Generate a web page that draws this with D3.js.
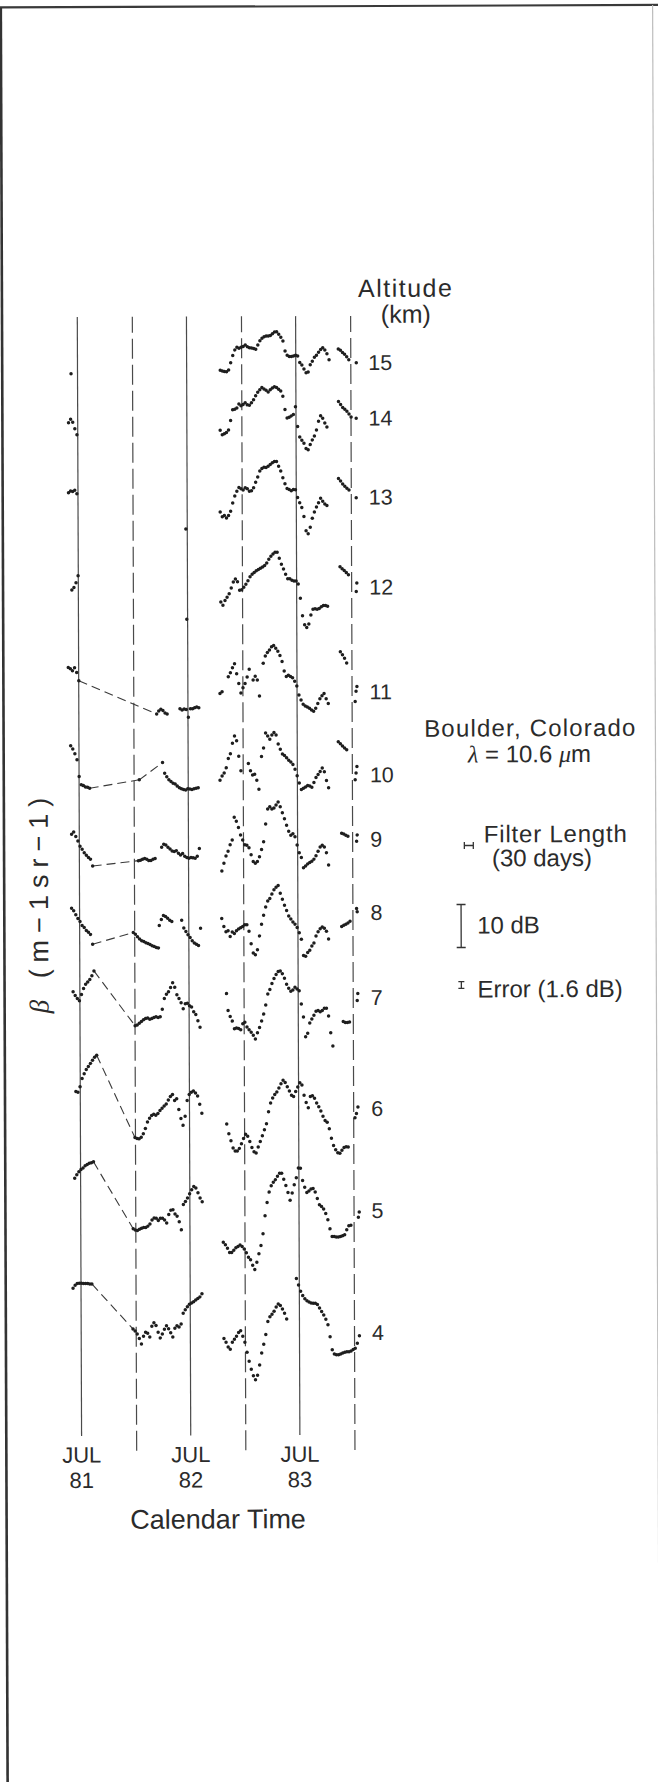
<!DOCTYPE html>
<html>
<head>
<meta charset="utf-8">
<script src="https://cdn.jsdelivr.net/npm/d3@7"></script>
<style>
  body { margin: 0; background: #fff; }
  svg { display: block; }
  text { font-family: "Liberation Sans", Arial, sans-serif; fill: #2b2b2b; }
</style>
</head>
<body>
<svg id="chart" width="658" height="1782"></svg>
<script>
// altitude of each trace (km), top to bottom, and the dB shift used to stack it
const altitudes = [15, 14, 13, 12, 11, 10, 9, 8, 7, 6, 5, 4]
const traceOffsetDb = [250.6, 237.7, 219.3, 198.4, 174.0, 154.7, 139.7, 122.7, 102.9, 77.1, 53.4, 25.0]

// filtered backscatter, dB relative to the trace offset; each segment starts at a date, step in days
// link: dashed line drawn from the previous segment across the data gap
const alt15 = [
  {start: "1981-06-11", step: 7, v: [-2.4]},
  {start: "1982-10-23", step: 7, v: [-1.7,-1.9,-2.0,-2.1,-1.7,0,1.7,3.0,3.6,3.4,3.6,3.8,4.1,3.7,3.5,3.4,3.3,3.1,4.1,5.1,5.7,6.0,6.2,6.2,6.3,6.7,7.1,7.2,6.6,5.9,5.0,2.7,1.7,1.4,1.4,1.5,1.7,1.5,0,-0.6,-1.5,-2.4,-2.2,-0.5,0.3,1.2,1.7,2.4,3.0,3.4,2.9,2.0,0.6]},
  {start: "1983-11-22", step: 7, v: [3.1,2.8,2.3,1.9,1.3,0.6]},
  {start: "1984-01-21", step: 2, v: [-0.1]}
]
const alt14 = [
  {start: "1981-06-02", step: 7, v: [-0.9,-0.1,-0.8,-2.3,-3.7]},
  {start: "1982-10-22", step: 7, v: [-2.8,-3.8,-3.6,-3.3,-2.7,-0.5,2.0,2.1,2.4,3.3,2.9,3.2,3.6,3.1,3.0,3.6,4.3,5.2,6.0,6.6,7.1,6.8,6.5,6.1,6.6,7.0,7.3,7.1,6.7,6.3,5.1,2.0,0,0.2,0.5,0.8,2.6,-2.0,-4.4,-5.2,-5.9,-7.1,-7.4,-6.2,-5.1,-4.2,-2.8,-0.8,0.5,-0.1,-1.2,-2.1]},
  {start: "1983-11-22", step: 7, v: [3.8,3.1,2.4,2.0,1.5,0.9,0.2]},
  {start: "1984-01-20", step: 2, v: [-0.1]}
]
const alt13 = [
  {start: "1981-06-01", step: 7, v: [1.2,1.6,1.5,1.8,1.0]},
  {start: "1982-06-28", step: 7, v: [-7.3]},
  {start: "1982-10-21", step: 7, v: [-3.4,-4.5,-4.2,-4.8,-4.2,-3.2,-1.3,0.3,1.4,2.3,2.0,1.7,2.2,2.0,1.4,1.5,2.2,3.5,4.7,6.1,6.7,7.0,6.9,7.2,7.6,8.0,8.3,8.3,7.2,6.1,4.5,3.1,2.0,1.8,1.5,1.8,1.7,-0.1,-1.3,-2.4,-4.5,-7.8,-8.5,-7.0,-4.9,-3.5,-2.3,-1.3,-0.3,-1.0,-1.6,-2.0]},
  {start: "1983-11-21", step: 7, v: [4.3,3.7,3.0,2.5,2.0,1.6]},
  {start: "1984-01-19", step: 2, v: [-0.2]}
]
const alt12 = [
  {start: "1981-06-11", step: 7, v: [-0.5,0.1,1.2,2.8]},
  {start: "1982-06-30", step: 7, v: [-7.4]},
  {start: "1982-10-22", step: 7, v: [-3.4,-4.2,-3.1,-2.3,-1.5,-0.2,1.2,1.9,1.3,-0.7,-0.6,0,0.7,1.5,2.4,3.0,3.4,3.8,4.1,4.4,4.7,5.0,5.6,6.5,7.2,7.7,8.1,8.1,6.7,5.3,4.2,3.0,1.9,1.9,1.6,1.4,1.4,0.7,-2.6,-6.7,-8.8,-9.4,-8.6,-6.5,-5.2,-5.1,-5.2,-5.0,-4.6,-4.3,-4.3,-4.5]},
  {start: "1983-11-25", step: 7, v: [4.7,4.2,3.8,3.3,2.8]},
  {start: "1984-01-18", step: 2, v: [-1.1,0.9]}
]
const alt11 = [
  {start: "1981-05-29", step: 7, v: [5.9,5.6,5.1,5.8,4.7,2.8]},
  {start: "1982-03-20", step: 7, link: true, v: [-5.0,-4.3,-3.9,-4.2,-4.8,-5.0]},
  {start: "1982-06-06", step: 7, v: [-3.8,-4.1,-3.9,-4.0,-5.8,-3.8,-3.8,-3.6,-3.4,-3.6]},
  {start: "1982-10-18", step: 7, v: [-0.3,0.1]},
  {start: "1982-11-15", step: 7, v: [3.6,4.5,5.7,6.6,4.3,2.0,-0.2,1.0,2.0,3.5,5.3]},
  {start: "1983-02-06", step: 7, v: [2.8,3.7,2.8,-0.9]},
  {start: "1983-03-12", step: 7, v: [6.7,8.4,9.2,9.8,10.5,10.8,10.2,9.5,8.5,7.1,4.9,3.6,3.9,3.6,3.3,2.5,1.4,-0.7,-1.9,-2.9,-3.3,-3.5,-3.8,-4.2,-4.5,-3.8,-2.7,-1.6,-0.9,-0.4,-1.6,-2.7]},
  {start: "1983-11-25", step: 7, v: [9.3,8.6,7.8,6.7]},
  {start: "1984-01-13", step: 3, v: [-2.3,0.1,1.2]}
]
const alt10 = [
  {start: "1981-06-05", step: 7, v: [7.0,6.2,5.1,3.7,-0.2,-2.1,-2.3,-2.6,-2.7,-2.9]},
  {start: "1982-01-20", step: 7, link: true, v: [-1.0]},
  {start: "1982-04-08", step: 7, link: true, v: [3.0,0.5,-0.3,-1.0,-1.4,-1.8,-2.0,-2.5,-2.9,-3.1,-3.3,-3.4,-3.1,-3.2,-3.3,-3.1,-3.0,-2.9]},
  {start: "1982-10-17", step: 7, v: [-1.2,-0.2,0.5,1.7,3.9,5.0,7.4,9.1,8.0,4.4,1.0]},
  {start: "1983-01-20", step: 7, v: [2.7,1.0,0,0.2,-1.2,-3.3]},
  {start: "1983-03-05", step: 7, v: [4.3,6.3,9.8,9.1,8.3,9.3,9.9,9.3,7.2,6.0,4.9,4.5,4.0,3.4,3.0,2.4,1.3,-0.2,-1.9,-3.4,-3.1,-2.8,-2.5,-2.6,-2.9,-1.8,-0.6,0.1,0.8,1.6,0.7,-1.3,-3.0]},
  {start: "1983-11-17", step: 7, v: [7.7,7.2,6.7,6.2,5.8]},
  {start: "1984-01-12", step: 3, v: [-1.2,0.4,1.9]}
]
const alt9 = [
  {start: "1981-06-07", step: 7, v: [1.4,1.9,0.9,-0.2,-1.4,-2.1,-2.9,-3.5,-4.0,-4.4,-6.0]},
  {start: "1982-01-16", step: 7, link: true, v: [-4.8,-4.7,-4.5,-4.3,-4.5,-4.8,-4.8,-4.5,-4.3]},
  {start: "1982-04-04", step: 7, v: [-1.7,-1.0,-1.2,-1.7,-2.1,-2.6,-2.7,-2.5,-3.1,-3.5,-3.2,-3.8,-4.1,-4.3,-4.1,-4.2,-4.3,-3.8,-2.0]},
  {start: "1982-10-22", step: 7, v: [-7.3,-5.5,-3.8,-2.7,-1.2,-0.1,5.2,4.3,2.8,1.1,-0.1,-1.2,-1.3,-1.9,-3.5,-5.1,-5.5,-5.1,-4.0,-2.3,-0.5,3.6,7.1,7.6,7.1,7.3,8.0,8.7,7.6,6.2,4.8,3.3,1.9,1.0,1.3,0.6,-1.3,-3.1,-4.2,-6.6,-6.2,-5.7,-5.4,-5.1,-4.6,-3.8,-2.8,-1.8,-1.4,-1.8,-3.1,-6.0]},
  {start: "1983-11-27", step: 7, v: [1.4,1.2,0.9,0.7]},
  {start: "1984-01-16", step: 2, v: [-0.5,1.0]}
]
const alt8 = [
  {start: "1981-06-06", step: 7, v: [1.2,0.6,-0.3,-1.2,-1.9,-2.8,-3.3,-4.0,-4.4,-4.9,-7.2]},
  {start: "1981-12-29", step: 7, link: true, v: [-4.5,-4.9,-5.5,-6.0,-6.4,-6.6,-6.9,-7.1,-7.3,-7.6,-7.8,-8.0,-8.1]},
  {start: "1982-03-26", step: 7, v: [-2.9,-1.5,-0.6,-0.8,-1.2,-1.7,-2.0]},
  {start: "1982-06-09", step: 7, v: [-1.7,-3.5,-4.3,-5.1,-5.7,-6.5,-7.0,-7.3,-7.6,-3.6]},
  {start: "1982-10-21", step: 7, v: [-1.3,-3.2,-4.4,-4.2,-5.5,-4.5,-4.8,-4.2,-3.8,-3.5,-3.2,-2.8,-2.8,-4.3,-7.2,-9.4,-9.8,-8.6,-5.4,-2.7,-0.6,1.3,2.7,3.3,4.3,5.3,5.9,6.3,4.5,3.1,1.7,0.5,-0.8,-1.5,-2.2,-2.7,-3.5,-4.7,-6.2,-10.0,-10.2,-9.3,-8.8,-7.8,-7.1,-5.5,-4.5,-3.8,-3.4,-3.7,-4.4,-6.2]},
  {start: "1983-11-26", step: 7, v: [-3.3,-3.0,-2.8,-2.5,-2.1]},
  {start: "1984-01-15", step: 2, v: [0.9,0.1]}
]
const alt7 = [
  {start: "1981-06-10", step: 7, v: [1.6,0.7,0,-0.5,0.9,2.3,3.3,3.8,4.4,5.3,6.4]},
  {start: "1982-01-03", step: 7, link: true, v: [-6.4,-6.2,-5.8,-5.4,-5.0,-4.7,-4.6,-4.9,-4.7,-4.5,-4.3,-4.5,-4.3,-2.6,-0.1,0.9,1.5,2.5,3.6,2.5,0.8,-0.1,-1.1,-2.5,-1.3,-1.2,-1.8,-2.1,-3.2,-3.8,-5.3,-6.8]},
  {start: "1982-11-05", step: 7, v: [1.0]},
  {start: "1982-11-10", step: 7, v: [-2.9,-4.3,-5.4,-7.2,-7.0,-7.1,-7.4,-6.0,-5.7,-6.8,-7.4,-8.0,-8.7,-9.6,-8.1,-6.9,-5.4,-3.8,-1.7,0.9,1.9,3.3,4.5,5.4,6.1,6.2,5.6,4.5,3.1,2.2,1.5,1.8,2.4,2.0,1.6,-1.5,-4.5,-9.1,-8.3,-5.9,-5.0,-4.1,-3.2,-3.0,-3.3,-3.0,-2.5,-2.5,-4.3,-8.2,-11.3]},
  {start: "1983-11-30", step: 7, v: [-5.6,-5.8,-5.8,-5.7]},
  {start: "1984-01-16", step: 2, v: [-0.7,0.9]}
]
const alt6 = [
  {start: "1981-06-18", step: 7, v: [4.2,4.0,5.3,7.2,8.3,9.3,10.0,10.7,11.4,12.1,12.6]},
  {start: "1982-01-01", step: 7, link: true, v: [-6.6,-6.8,-6.9,-6.5,-5.7,-4.5,-3.0,-2.1,-1.5,-1.2,-1.4,-1.0,-0.3,0.2,0.7,1.2,2.1,2.9,3.4,2.0,2.4,-0.1,-2.2,-3.8,-1.7,2.0,3.4,3.9,4.2,3.7,3.0,1.1,-1.0]},
  {start: "1982-11-04", step: 7, v: [-3.5,-5.8,-7.4,-9.1,-9.8,-9.8,-9.2,-8.1,-6.9,-5.9,-6.4,-7.6,-9.0,-10.0,-10.3,-8.9,-7.6,-6.3,-4.9,-3.5,-0.7,1.3,2.5,3.3,3.9,4.8,5.8,6.6,6.1,5.1,4.1,3.1,2.8,4.0,5.0,6.0,5.5,3.1,1.4,0.2,2.8,3.0,2.4,1.3,0.4,-0.6,-1.8,-2.8,-3.2,-4.7,-6.9,-8.6,-9.6,-10.3,-10.4,-9.7,-9.1,-8.9,-9.0]},
  {start: "1984-01-07", step: 5, v: [-2.2,-1.2,0.3]}
]
const alt5 = [
  {start: "1981-06-13", step: 7, v: [7.7,8.5,9.2,9.7,10.1,10.6,10.9,11.2,11.3,11.5]},
  {start: "1981-12-25", step: 7, link: true, v: [-4.1,-4.4,-4.5,-4.2,-4.0,-3.8,-3.8,-3.5,-3.0,-2.1,-1.6,-1.7,-2.2,-1.7,-1.7,-2.1,-2.8,-0.8,0.2,0.3,-0.7,-1.2,-2.5,-4.4,1.5,2.2,3.0,4.0,4.9,5.7,5.3,4.2,3.0,2.1]},
  {start: "1982-10-22", step: 7, v: [-7.3,-7.9,-8.7,-9.7,-9.7,-9.2,-8.6,-8.3,-8.0,-8.3,-8.9,-9.8,-10.8,-11.4,-12.7,-13.7,-12.0,-10.0,-8.1,-5.4,-1.2,1.9,4.3,5.8,6.6,7.2,8.0,8.7,8.7,7.3,5.8,4.2,2.4,4.1,6.0,7.6,9.9,9.8,7.0,5.4,4.2,4.5,5.0,5.1,4.3,2.8,1.3,0.9,0.3,-0.7,-2.2,-4.3,-6.1,-6.1,-6.2,-6.2,-6.1,-5.9,-5.7,-4.5,-3.6,-3.5]},
  {start: "1984-01-17", step: 3, v: [-1.6,-0.4]}
]
const alt4 = [
  {start: "1981-06-06", step: 7, v: [10.5,11.2,11.6,11.7,11.7,11.6,11.6,11.6,11.5,11.5]},
  {start: "1981-12-23", step: 7, link: true, v: [1.0,0.5,-0.2,-1.2,-2.5,-0.7,0.2,0,-0.9,1.6,2.4,1.8,0.2,-1.1,-0.2,0.9,1.7,1.0,0.1,-0.9,1.1,1.7,1.4,2.1,4.6,5.4,6.1,6.7,7.0,7.3,7.7,8.0,8.4,9.1]},
  {start: "1982-10-23", step: 7, v: [-1.3,-2.2,-3.3,-3.8,-2.2,-1.5,-0.8,0.1,0.5,-0.8,-2.2,-4.5,-6.6,-8.5,-10.0,-10.9,-9.9,-7.5,-4.7,-2.7,-0.4,2.6,3.7,4.3,5.0,6.0,6.7,6.3,5.5,4.5,3.2]},
  {start: "1983-06-23", step: 7, v: [12.6,11.1,9.6,8.6,7.9,7.4,7.1,6.9,6.8,6.8,6.5,5.7,4.9,4.1,3.1,1.8,-1.0,-4.0,-5.0,-5.2,-5.2,-5.0,-4.8,-4.6,-4.5,-4.5,-4.3,-4.0,-3.7,-2.5,-0.8]}
]
const traces = [alt15, alt14, alt13, alt12, alt11, alt10, alt9, alt8, alt7, alt6, alt5, alt4]

const julTicks = ["1981-07-01", "1982-07-01", "1983-07-01"]
const julYears = ["81", "82", "83"]
const janTicks = ["1982-01-01", "1983-01-01", "1984-01-01"]

const filterDays = 30
const scaleBarDb = 10
const errorDb = 1.6

const parse = d3.utcParse("%Y-%m-%d")
const pxPerDb = 4.3
const x = d3.scaleUtc().domain([parse("1981-07-01"), parse("1983-07-01")]).range([79, 297.3])
const y = d3.scaleLinear().domain([0, 260]).range([1440, 1440 - 260 * pxPerDb])

const svg = d3.select("#chart")
// the scanned page sits a little askew
const g = svg.append("g").attr("transform", "rotate(-0.22,329,891)")

// page frame
g.append("path").attr("d", "M-6,6.2H664").attr("stroke", "#3a3a3a").attr("stroke-width", 2.2)
g.append("path").attr("d", "M4.2,6.2V1800").attr("stroke", "#333").attr("stroke-width", 2.6)
g.append("path").attr("d", "M656,6.2V1800").attr("stroke", "#bdbdbd").attr("stroke-width", 1.2)

const gridTop = 316
const julBottom = 1435
const janBottom = 1450

// solid July lines with labels
g.append("g")
  .attr("transform", `translate(0,${julBottom})`)
  .call(d3.axisBottom(x).tickValues(julTicks.map(parse)).tickSize(-(julBottom - gridTop)).tickPadding(11).tickFormat(() => "JUL"))
  .call(a => a.select(".domain").remove())
  .call(a => a.selectAll(".tick line").attr("stroke", "#4a4a4a").attr("stroke-width", 1.2))
  .call(a => a.selectAll(".tick text").attr("font-size", 22))
  .call(a => a.selectAll(".tick").append("text")
      .attr("y", 52).attr("font-size", 22).text((d, i) => julYears[i]))

// dashed January lines
g.append("g")
  .attr("transform", `translate(0,${janBottom})`)
  .call(d3.axisBottom(x).tickValues(janTicks.map(parse)).tickSize(-(janBottom - gridTop)).tickFormat(""))
  .call(a => a.select(".domain").remove())
  .call(a => a.selectAll(".tick line").attr("stroke", "#4a4a4a").attr("stroke-width", 1.2).attr("stroke-dasharray", "20,6"))

g.append("text")
  .attr("x", (x.range()[0] + x(parse(janTicks[2]))) / 2).attr("y", 1528)
  .attr("text-anchor", "middle").attr("font-size", 27)
  .text("Calendar Time")

// dots and gap connectors
const dots = []
const links = []
traces.forEach((segs, i) => {
  const off = traceOffsetDb[i]
  let prev = null
  segs.forEach(seg => {
    const t0 = parse(seg.start)
    const pts = seg.v.map((v, k) => [x(d3.utcDay.offset(t0, k * seg.step)), y(off + v)])
    if (seg.link && prev) links.push([prev, pts[0]])
    dots.push(...pts)
    prev = pts[pts.length - 1]
  })
})

g.append("g").selectAll("path")
  .data(links)
  .join("path")
    .attr("d", d => d3.line()(d))
    .attr("stroke", "#3a3a3a")
    .attr("stroke-width", 1.1)
    .attr("stroke-dasharray", "9,5")

g.append("g").selectAll("circle")
  .data(dots)
  .join("circle")
    .attr("cx", d => d[0])
    .attr("cy", d => d[1])
    .attr("r", 1.75)
    .attr("fill", "#1e1e1e")

// altitude labels
const labelX = x(parse(janTicks[2])) + 18
g.append("g").selectAll("text")
  .data(altitudes)
  .join("text")
    .attr("x", labelX)
    .attr("y", (d, i) => y(traceOffsetDb[i]))
    .attr("dy", "0.36em")
    .attr("font-size", 21.5)
    .text(d => d)

g.append("text").attr("x", 408).attr("y", 297).attr("text-anchor", "middle")
  .attr("font-size", 25).attr("letter-spacing", 1.5).text("Altitude")
g.append("text").attr("x", 408).attr("y", 323).attr("text-anchor", "middle")
  .attr("font-size", 25).text("(km)")

// site and wavelength
g.append("text").attr("x", 531).attr("y", 737).attr("text-anchor", "middle")
  .attr("font-size", 24).attr("letter-spacing", 1.2).text("Boulder, Colorado")
const lam = g.append("text").attr("x", 530).attr("y", 763).attr("text-anchor", "middle").attr("font-size", 24)
lam.append("tspan").attr("font-family", "Liberation Serif").attr("font-style", "italic").text("λ")
lam.append("tspan").text(" = 10.6 ")
lam.append("tspan").attr("font-family", "Liberation Serif").attr("font-style", "italic").text("μ")
lam.append("tspan").text("m")

// legend: filter length, 10 dB scale, error bar
const lx = 469
const fw = x(d3.utcDay.offset(parse("1982-01-01"), filterDays)) - x(parse("1982-01-01"))
const legend = g.append("g").attr("stroke", "#333").attr("stroke-width", 1.3).attr("fill", "none")
legend.append("path").attr("d", `M${lx - fw / 2},846H${lx + fw / 2}M${lx - fw / 2},842.5V849.5M${lx + fw / 2},842.5V849.5`)
const sb = scaleBarDb * pxPerDb
legend.append("path").attr("d", `M461,905V${905 + sb}M456.5,905H465.5M456.5,${905 + sb}H465.5`)
const eb = errorDb * pxPerDb
legend.append("path").attr("d", `M461,${985.5 - eb / 2}V${985.5 + eb / 2}M458,${985.5 - eb / 2}H464M458,${985.5 + eb / 2}H464`)

g.append("text").attr("x", 484).attr("y", 843).attr("font-size", 24).attr("letter-spacing", 0.8).text("Filter Length")
g.append("text").attr("x", 492).attr("y", 867).attr("font-size", 24).text("(30 days)")
g.append("text").attr("x", 477).attr("y", 934).attr("font-size", 24).text("10 dB")
g.append("text").attr("x", 477).attr("y", 998).attr("font-size", 24).text("Error (1.6 dB)")

// y label
const yl = g.append("text").attr("transform", "translate(48,901) rotate(-90)")
  .attr("text-anchor", "middle").attr("font-size", 27).attr("letter-spacing", 7)
yl.append("tspan").attr("font-family", "Liberation Serif").attr("font-style", "italic").text("β")
yl.append("tspan").text(" (m−1sr−1)")
</script>
</body>
</html>
